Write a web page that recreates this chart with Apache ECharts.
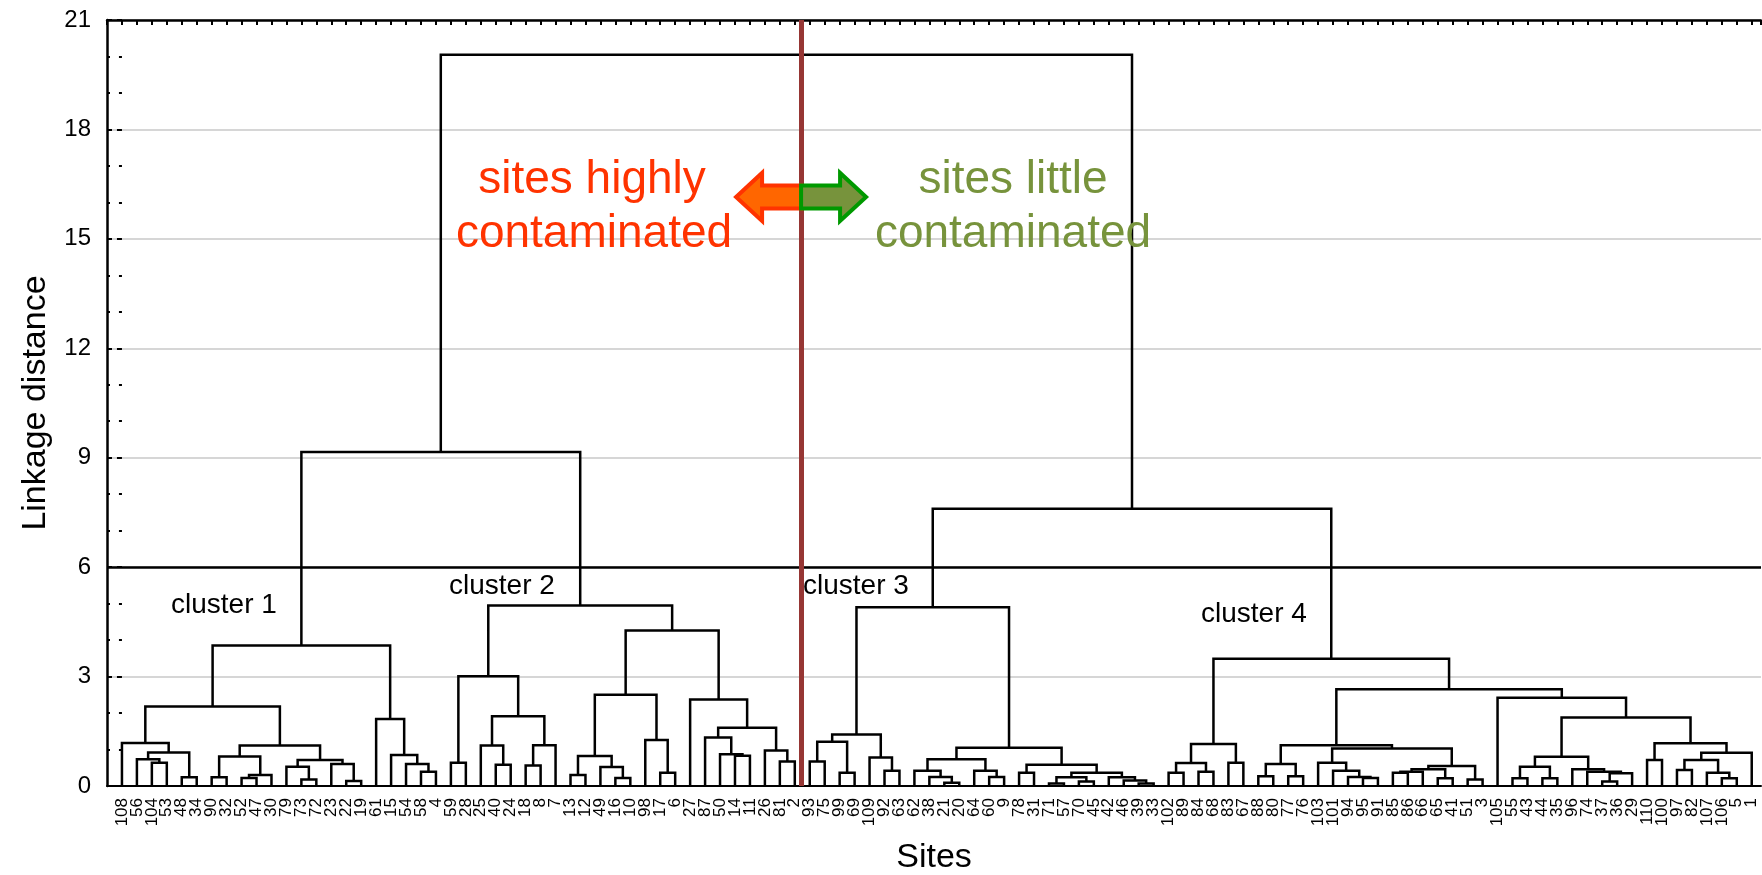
<!DOCTYPE html>
<html><head><meta charset="utf-8">
<script src="https://cdn.jsdelivr.net/npm/echarts@6/dist/echarts.min.js"></script>
<style>html,body{margin:0;padding:0;background:#fff}#chart{width:1762px;height:875px}</style>
</head><body><div id="chart"></div>
<script>
// Leaf order (site numbers) from left to right
const leafLabels = [108,56,104,53,48,34,90,32,52,47,30,79,73,72,23,22,19,61,15,54,58,4,59,28,25,40,24,18,8,7,13,12,49,16,10,98,17,6,27,87,50,14,11,26,81,2,93,75,99,69,109,92,63,62,38,21,20,64,60,9,78,31,71,57,70,45,42,46,39,33,102,89,84,68,83,67,88,80,77,76,103,101,94,95,91,85,86,66,65,41,51,3,105,55,43,44,35,96,74,37,36,29,110,100,97,82,107,106,5,1];
// Linkage distance at which neighbouring leaves i and i+1 first join
const mergeHeights = [1.18,0.73,0.64,0.92,0.24,2.18,0.24,0.81,0.22,0.30,1.11,0.53,0.18,0.71,0.60,0.14,3.85,1.84,0.85,0.60,0.39,9.16,0.64,3.01,1.11,0.58,1.91,0.56,1.12,4.95,0.30,0.82,0.52,0.22,2.50,1.26,0.36,4.26,2.37,1.33,0.87,0.83,1.60,0.97,0.67,20.05,0.67,1.21,0.36,1.41,0.78,0.42,4.90,0.42,0.25,0.09,0.73,0.42,0.25,1.05,0.36,0.58,0.07,0.24,0.12,0.36,0.24,0.15,0.07,7.60,0.36,0.63,0.39,1.15,0.64,3.49,0.27,0.60,0.27,1.12,0.64,0.42,0.25,0.22,1.03,0.36,0.39,0.46,0.21,0.55,0.18,2.65,2.42,0.21,0.53,0.21,0.80,0.46,0.39,0.12,0.35,1.88,0.71,1.17,0.44,0.71,0.36,0.21,0.91];
const yMin = 0, yMax = 21, yStep = 3;
const cutHeight = 6;        // horizontal cut line
const dividerX = 45.42;     // red separator between leaves 45 and 46
const arrowY = 16.15;       // arrows level
const clusterLabels = ['cluster 1','cluster 2','cluster 3','cluster 4'];
const leftText = ['sites highly','contaminated'];
const rightText = ['sites little','contaminated'];

const FONT = "'Liberation Sans', Arial, sans-serif";

function buildTree(lo, hi, out) {
  if (lo === hi) return {x: lo, h: 0};
  let k = lo;
  for (let i = lo; i < hi; i++) if (mergeHeights[i] > mergeHeights[k]) k = i;
  const L = buildTree(lo, k, out), R = buildTree(k + 1, hi, out);
  const h = mergeHeights[k];
  out.push([L.x, L.h, R.x, R.h, h]);
  return {x: (L.x + R.x) / 2, h: h};
}
const links = [];
buildTree(0, leafLabels.length - 1, links);

const chart = echarts.init(document.getElementById('chart'), null, {renderer: 'canvas'});
const xMin = -1, xMax = leafLabels.length - 1 + 0.62;

const option = {
  backgroundColor: '#fff',
  animation: false,
  grid: {left: 107, right: 1, top: 20, bottom: 89, outerBoundsMode: 'none', containLabel: false},
  xAxis: [{
    type: 'value', min: xMin, max: xMax, interval: 1, position: 'bottom',
    name: 'Sites', nameLocation: 'middle', nameGap: 55,
    nameTextStyle: {fontSize: 34, color: '#000', fontFamily: FONT},
    axisLine: {show: true, onZero: false, lineStyle: {color: '#000', width: 2}},
    axisTick: {show: false},
    splitLine: {show: false},
    axisLabel: {
      rotate: 90, fontSize: 17, color: '#000', fontFamily: FONT, margin: 12,
      showMinLabel: true, showMaxLabel: true,
      formatter: function (v) {
        return (Number.isInteger(v) && v >= 0 && v < leafLabels.length) ? String(leafLabels[v]) : '';
      }
    }
  }, {
    type: 'value', min: xMin, max: xMax, interval: 1, position: 'top',
    axisLine: {show: true, onZero: false, lineStyle: {color: '#000', width: 2.5}},
    axisTick: {show: true, inside: true, length: 5, lineStyle: {color: '#000', width: 2}},
    axisLabel: {show: false}, splitLine: {show: false}
  }],
  yAxis: [{
    type: 'value', min: yMin, max: yMax, interval: yStep, position: 'left',
    name: 'Linkage distance', nameLocation: 'middle', nameGap: 54,
    nameTextStyle: {fontSize: 34, color: '#000', fontFamily: FONT},
    axisLine: {show: true, onZero: false, lineStyle: {color: '#000', width: 2.5}},
    axisTick: {show: true, inside: true, length: 5, lineStyle: {color: '#000', width: 2}},
    minorTick: {show: true, splitNumber: 3, length: 3, lineStyle: {color: '#000', width: 2}},
    axisLabel: {fontSize: 24, color: '#000', fontFamily: FONT, margin: 16},
    splitLine: {show: true, lineStyle: {color: '#c8c8c8', width: 1.5}}
  }, {
    type: 'value', min: yMin, max: yMax, interval: yStep, position: 'right',
    axisLine: {show: false},
    axisTick: {show: true, inside: true, length: 5, lineStyle: {color: '#000', width: 2}},
    minorTick: {show: true, splitNumber: 3, length: 3, lineStyle: {color: '#000', width: 2}},
    axisLabel: {show: false}, splitLine: {show: false}
  }],
  series: [{
    type: 'custom', name: 'dendrogram', xAxisIndex: 0, yAxisIndex: 0,
    data: links, encode: {x: [0, 2], y: [1, 3, 4]},
    renderItem: function (params, api) {
      const a = api.coord([api.value(0), api.value(1)]);
      const b = api.coord([api.value(0), api.value(4)]);
      const c = api.coord([api.value(2), api.value(4)]);
      const d = api.coord([api.value(2), api.value(3)]);
      return {type: 'polyline', shape: {points: [a, b, c, d]},
        style: {stroke: '#000', lineWidth: 2.5, fill: null, lineJoin: 'miter'}};
    },
    markLine: {
      silent: true, symbol: ['none', 'none'], animation: false,
      label: {show: false},
      data: [
        {yAxis: cutHeight, lineStyle: {color: '#000', width: 2.5, type: 'solid'}},
        {xAxis: dividerX, lineStyle: {color: '#963634', width: 5, type: 'solid'}}
      ]
    },
    z: 2
  }, {
    type: 'custom', name: 'arrows', xAxisIndex: 0, yAxisIndex: 0,
    data: [[dividerX, arrowY]], encode: {x: 0, y: 1},
    renderItem: function (params, api) {
      const p = api.coord([api.value(0), api.value(1)]);
      const cx = p[0], cy = p[1];
      const bw = 11.5, hw = 24, hl = 26, tl = 65;
      const left = [[cx, cy - bw], [cx - tl + hl, cy - bw], [cx - tl + hl, cy - hw], [cx - tl, cy],
                    [cx - tl + hl, cy + hw], [cx - tl + hl, cy + bw], [cx, cy + bw]];
      const right = [[cx, cy - bw], [cx + tl - hl, cy - bw], [cx + tl - hl, cy - hw], [cx + tl, cy],
                     [cx + tl - hl, cy + hw], [cx + tl - hl, cy + bw], [cx, cy + bw]];
      return {type: 'group', children: [
        {type: 'polygon', shape: {points: left}, style: {fill: '#ff6600', stroke: '#ff3300', lineWidth: 4, lineJoin: 'miter'}},
        {type: 'polygon', shape: {points: right}, style: {fill: '#77933c', stroke: '#009900', lineWidth: 4, lineJoin: 'miter'}}
      ]};
    },
    z: 5
  }],
  graphic: [
    {type: 'text', x: 592, y: 180, z: 10, style: {text: leftText[0], fill: '#ff3300', fontSize: 46, fontFamily: FONT, align: 'center', verticalAlign: 'middle'}},
    {type: 'text', x: 594, y: 234, z: 10, style: {text: leftText[1], fill: '#ff3300', fontSize: 46, fontFamily: FONT, align: 'center', verticalAlign: 'middle'}},
    {type: 'text', x: 1013, y: 180, z: 10, style: {text: rightText[0], fill: '#77933c', fontSize: 46, fontFamily: FONT, align: 'center', verticalAlign: 'middle'}},
    {type: 'text', x: 1013, y: 234, z: 10, style: {text: rightText[1], fill: '#77933c', fontSize: 46, fontFamily: FONT, align: 'center', verticalAlign: 'middle'}},
    {type: 'text', x: 171, y: 605, z: 10, style: {text: clusterLabels[0], fill: '#000', fontSize: 28, fontFamily: FONT, align: 'left', verticalAlign: 'middle'}},
    {type: 'text', x: 449, y: 586, z: 10, style: {text: clusterLabels[1], fill: '#000', fontSize: 28, fontFamily: FONT, align: 'left', verticalAlign: 'middle'}},
    {type: 'text', x: 803, y: 586, z: 10, style: {text: clusterLabels[2], fill: '#000', fontSize: 28, fontFamily: FONT, align: 'left', verticalAlign: 'middle'}},
    {type: 'text', x: 1201, y: 614, z: 10, style: {text: clusterLabels[3], fill: '#000', fontSize: 28, fontFamily: FONT, align: 'left', verticalAlign: 'middle'}}
  ]
};
chart.setOption(option);
</script>
</body></html>
